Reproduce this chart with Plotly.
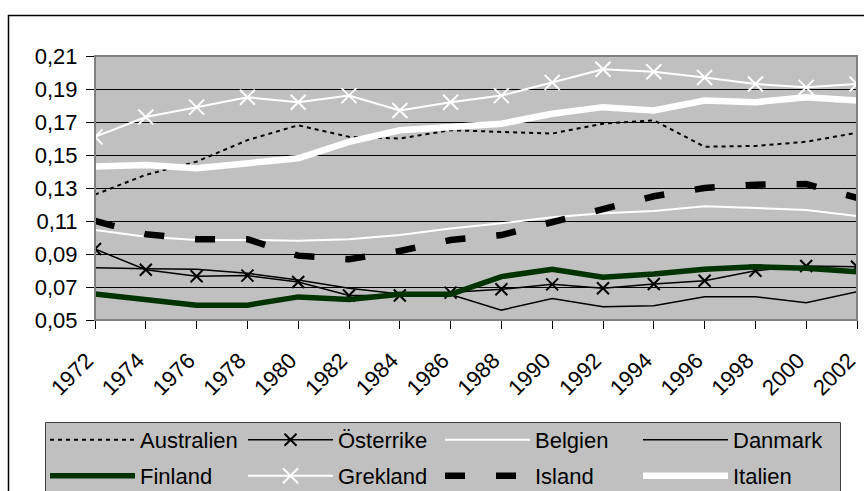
import plotly.graph_objects as go

years = [str(y) for y in range(1972, 2003, 2)]

australien = [0.126, 0.138, 0.146, 0.159, 0.168, 0.161, 0.160, 0.165, 0.164, 0.163, 0.169, 0.171, 0.155, 0.1555, 0.158, 0.1635]
osterrike = [0.093, 0.0805, 0.0765, 0.0769, 0.073, 0.0648, 0.0648, 0.0666, 0.0686, 0.0716, 0.0692, 0.0718, 0.0738, 0.0799, 0.0827, 0.0823]
belgien = [0.1045, 0.1005, 0.0985, 0.0985, 0.098, 0.0989, 0.1015, 0.1055, 0.1086, 0.1122, 0.1147, 0.116, 0.119, 0.1177, 0.1167, 0.113]
danmark = [0.0817, 0.081, 0.0808, 0.0783, 0.0743, 0.0692, 0.0658, 0.0655, 0.056, 0.063, 0.058, 0.0587, 0.0641, 0.0641, 0.0605, 0.0672]
finland = [0.0658, 0.062, 0.059, 0.059, 0.064, 0.0625, 0.0656, 0.0656, 0.0763, 0.0808, 0.0759, 0.0779, 0.0808, 0.0823, 0.0813, 0.0793]
grekland = [0.161, 0.173, 0.179, 0.185, 0.182, 0.186, 0.177, 0.182, 0.186, 0.194, 0.202, 0.2005, 0.197, 0.193, 0.191, 0.193]
island = [0.110, 0.102, 0.099, 0.099, 0.089, 0.0868, 0.0918, 0.0985, 0.1015, 0.1096, 0.1177, 0.125, 0.130, 0.132, 0.1324, 0.124]
italien = [0.143, 0.144, 0.142, 0.145, 0.148, 0.158, 0.165, 0.167, 0.169, 0.175, 0.179, 0.177, 0.183, 0.182, 0.185, 0.183]

y_ticks = [0.05, 0.07, 0.09, 0.11, 0.13, 0.15, 0.17, 0.19, 0.21]

FONT = "Liberation Sans"
FS = 22
FIG_W, FIG_H = 864, 491

fig = go.Figure()

def add(name, y, color, width, legend, dash="solid", marker=None):
    kw = dict(x=years, y=y, name=name, mode="lines", legend=legend,
              line=dict(color=color, width=width, dash=dash))
    if marker:
        kw["mode"] = "lines+markers"
        kw["marker"] = marker
    fig.add_trace(go.Scatter(**kw))

add("Australien", australien, "black", 2, "legend", "4px,4px")
add("Österrike", osterrike, "black", 1.5, "legend", "solid",
    dict(symbol="x-thin", size=12, color="black", line=dict(color="black", width=2)))
add("Belgien", belgien, "white", 2, "legend2")
add("Danmark", danmark, "black", 1.5, "legend2")
add("Finland", finland, "#003300", 5.5, "legend3")
add("Grekland", grekland, "white", 2, "legend3", "solid",
    dict(symbol="x-thin", size=15, color="white", line=dict(color="white", width=2)))
add("Island", island, "black", 6.5, "legend4", "20px,31px")
add("Italien", italien, "white", 6.5, "legend4")

L, T, W, H = 95, 56, 762, 264

def px_x(p):
    return (p - L) / W

def px_y(p):
    return (T + H - p) / H

def leg(xpx, y, anchor):
    return dict(
        orientation="h",
        x=px_x(xpx), xanchor="left",
        yref="container", y=y, yanchor=anchor,
        bgcolor="rgba(0,0,0,0)",
        borderwidth=0,
        font=dict(family=FONT, size=FS, color="black"),
        itemwidth=85,
        entrywidth=98, entrywidthmode="pixels",
    )

ROW1 = (FIG_H - 440) / FIG_H
ROW2 = (FIG_H - 476) / FIG_H

fig.update_layout(
    width=FIG_W, height=FIG_H,
    margin=dict(l=L, r=FIG_W - L - W, t=T, b=FIG_H - T - H, pad=0),
    paper_bgcolor="white",
    plot_bgcolor="#C0C0C0",
    separators=", ",
    font=dict(family=FONT, size=FS, color="black"),
    showlegend=True,
    legend=leg(45, ROW1, "middle"),
    legend2=leg(440, ROW1, "middle"),
    legend3=leg(45, ROW2, "middle"),
    legend4=leg(440, ROW2, "middle"),
    xaxis=dict(
        type="category",
        range=[0, len(years) - 1],
        tickangle=-45,
        ticks="outside", ticklen=8, tickcolor="black",
        ticklabelstandoff=10, ticklabelshift=-8,
        showline=True, linecolor="black", linewidth=1,
        showgrid=False, zeroline=False, automargin=False,
        tickfont=dict(family=FONT, size=FS, color="black"),
    ),
    yaxis=dict(
        range=[0.05, 0.21],
        tickvals=y_ticks,
        tickformat=".2f",
        ticks="outside", ticklen=8, tickcolor="black",
        ticklabelstandoff=4,
        showline=True, linecolor="black", linewidth=1,
        showgrid=True, gridcolor="black", gridwidth=1,
        zeroline=False, automargin=False,
        tickfont=dict(family=FONT, size=FS, color="black"),
    ),
    shapes=[
        dict(type="rect", xref="paper", yref="paper",
             x0=0, x1=1, y0=0, y1=1,
             line=dict(color="#808080", width=2), layer="above"),
        dict(type="rect", xref="paper", yref="paper",
             x0=px_x(8.5), x1=px_x(880), y0=px_y(15.5), y1=px_y(520),
             line=dict(color="black", width=1.5), fillcolor="rgba(0,0,0,0)",
             layer="below"),
        dict(type="rect", xref="paper", yref="paper",
             x0=px_x(45.5), x1=px_x(840.5), y0=px_y(422.5), y1=px_y(520),
             line=dict(color="#404040", width=1), fillcolor="#C0C0C0",
             layer="below"),
    ],
)

fig.write_html("out.html", config={"displayModeBar": False},
               post_script="document.body.style.margin='0';")
